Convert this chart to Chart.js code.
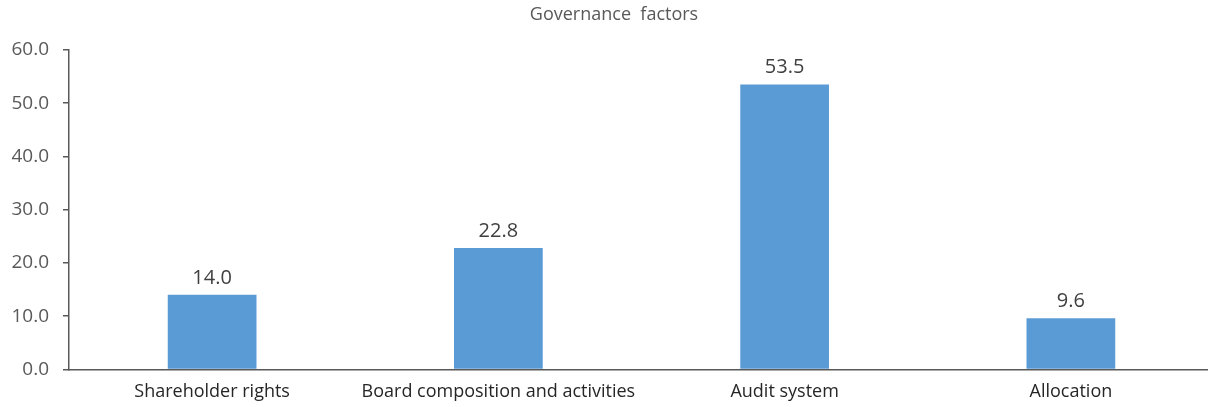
<!DOCTYPE html>
<html>
<head>
<meta charset="utf-8">
<script src="https://cdn.jsdelivr.net/npm/chart.js@4.4.0/dist/chart.umd.min.js"></script>
<style>
  html, body { margin: 0; padding: 0; background: #fff; overflow: hidden; }
  #wrap { width: 1214px; height: 407px; }
</style>
</head>
<body>
<div id="wrap"><canvas id="chart"></canvas></div>
<script>
// chart data
var categories = ['Shareholder rights', 'Board composition and activities', 'Audit system', 'Allocation'];
var values = [14.0, 22.8, 53.5, 9.6];
var yTicks = [0, 10, 20, 30, 40, 50, 60];

// draw value labels above bars
var valueLabels = {
  id: 'valueLabels',
  afterDatasetsDraw: function(chart) {
    var ctx = chart.ctx;
    var meta = chart.getDatasetMeta(0);
    ctx.save();
    ctx.font = '20px "Open Sans", sans-serif';
    ctx.fillStyle = '#404040';
    ctx.textAlign = 'center';
    ctx.textBaseline = 'bottom';
    meta.data.forEach(function(bar, i) {
      ctx.fillText(values[i].toFixed(1), bar.x, bar.y - 7);
    });
    ctx.restore();
  }
};

var titleText = {
  id: 'titleText',
  afterDraw: function(chart) {
    var ctx = chart.ctx;
    ctx.save();
    ctx.font = '18px "Open Sans", sans-serif';
    ctx.fillStyle = '#595959';
    ctx.textAlign = 'center';
    ctx.textBaseline = 'middle';
    ctx.fillText('Governance  factors', 614, 15);
    ctx.restore();
  }
};

var ctx = document.getElementById('chart').getContext('2d');
new Chart(ctx, {
  type: 'bar',
  data: {
    labels: categories,
    datasets: [{
      data: values,
      backgroundColor: '#5B9BD5',
      categoryPercentage: 1,
      barPercentage: 0.31
    }]
  },
  options: {
    responsive: true,
    maintainAspectRatio: false,
    animation: false,
    layout: { padding: { top: 50, left: 0, right: 0, bottom: 0 } },
    plugins: {
      legend: { display: false },
      title: { display: false },
      tooltip: { enabled: false }
    },
    scales: {
      x: {
        grid: { display: false },
        border: { display: true, color: '#595959', width: 1.5 },
        ticks: {
          color: '#262626',
          font: { family: '"Open Sans", sans-serif', size: 18 },
          padding: 4,
          maxRotation: 0
        }
      },
      y: {
        min: 0,
        max: 60,
        afterBuildTicks: function(axis) {
          axis.ticks = yTicks.map(function(v) { return { value: v }; });
        },
        afterFit: function(axis) { axis.width = 69; },
        grid: {
          drawOnChartArea: false,
          drawTicks: true,
          tickLength: 6,
          color: '#595959',
          lineWidth: 1.5
        },
        border: { display: true, color: '#595959', width: 1.5 },
        ticks: {
          color: '#595959',
          font: { family: '"Open Sans", sans-serif', size: 19 },
          padding: 14,
          callback: function(v) { return Number(v).toFixed(1); }
        }
      }
    }
  },
  plugins: [valueLabels, titleText]
});
</script>
</body>
</html>
